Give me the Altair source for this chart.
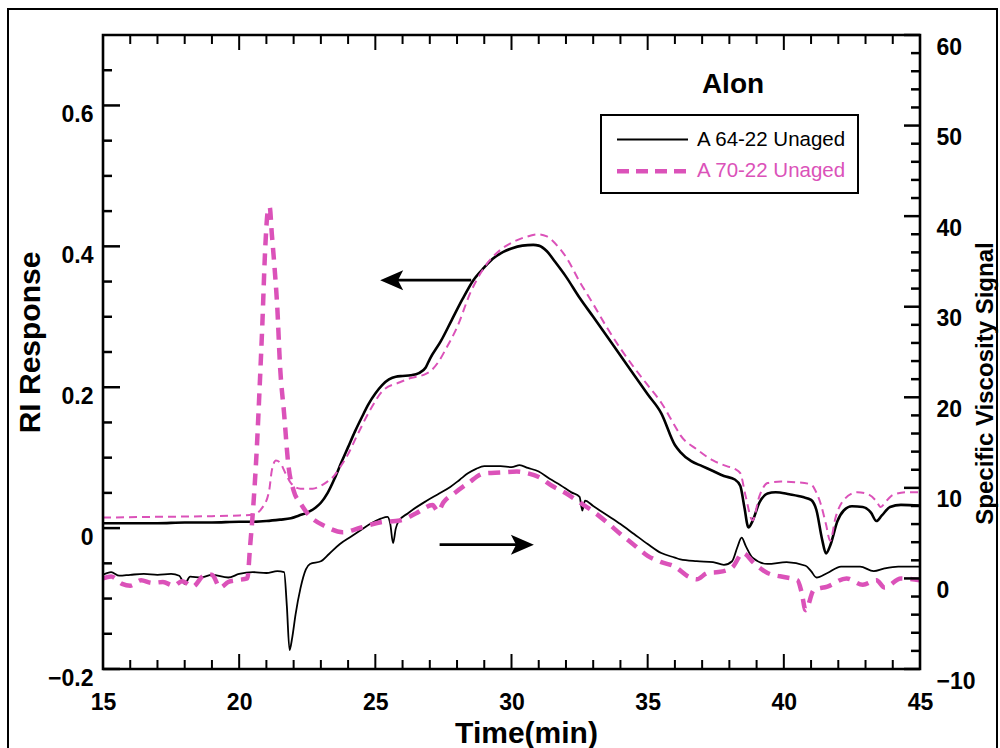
import altair as alt
import pandas as pd

# ---------------- data ----------------
ri64_t = [15.0, 16.0, 17.0, 18.0, 19.0, 20.0, 20.5, 21.0, 21.5, 21.9, 22.2, 22.5, 22.8, 23.0, 23.25,
          23.5, 23.75, 24.0, 24.25, 24.5, 24.75, 25.0, 25.25, 25.5, 25.75, 26.0, 26.3, 26.6, 26.85,
          27.0, 27.4, 27.8, 28.2, 28.6, 29.0, 29.3, 29.7, 30.0, 30.4, 30.8, 31.0, 31.3, 31.6, 32.0,
          32.5, 33.0, 34.0, 35.0, 35.5, 36.0, 36.2, 36.6, 37.0, 37.4, 37.8, 38.2, 38.4, 38.55, 38.7,
          38.85, 39.1, 39.4, 39.7, 40.2, 40.7, 41.0, 41.2, 41.4, 41.55, 41.7, 41.97, 42.2, 42.5,
          42.9, 43.2, 43.4, 43.6, 43.9, 44.3, 45.0]
ri64_v = [0.007, 0.007, 0.007, 0.008, 0.008, 0.009, 0.009, 0.010, 0.012, 0.014, 0.018, 0.022, 0.029,
          0.036, 0.050, 0.070, 0.093, 0.115, 0.137, 0.157, 0.176, 0.191, 0.203, 0.211, 0.215, 0.216,
          0.217, 0.220, 0.228, 0.240, 0.265, 0.295, 0.325, 0.352, 0.370, 0.382, 0.392, 0.397, 0.401,
          0.402, 0.401, 0.393, 0.378, 0.357, 0.327, 0.300, 0.245, 0.190, 0.163, 0.118, 0.108, 0.095,
          0.088, 0.081, 0.074, 0.069, 0.060, 0.030, 0.001, 0.010, 0.036, 0.049, 0.051, 0.048, 0.044,
          0.040, 0.025, -0.015, -0.036, -0.025, 0.010, 0.025, 0.031, 0.030, 0.022, 0.010, 0.018,
          0.030, 0.033, 0.032]

ri70_t = [15.0, 17.0, 19.0, 20.0, 20.5, 20.85, 21.1, 21.2, 21.35, 21.5, 21.7, 21.9, 22.25, 22.7, 23.0,
          23.2, 23.5, 23.7, 24.0, 24.3, 24.8, 25.3, 25.9, 26.3, 26.8, 27.0, 27.3, 27.6, 28.0, 28.5,
          29.0, 29.5, 30.0, 30.5, 31.0, 31.3, 31.7, 32.0, 32.5, 33.0, 33.5, 34.0, 34.5, 35.0, 35.5,
          36.0, 36.2, 36.8, 37.4, 37.9, 38.2, 38.4, 38.6, 38.85, 39.1, 39.4, 39.9, 40.5, 41.0, 41.2,
          41.35, 41.55, 41.7, 41.9, 42.2, 42.7, 43.1, 43.4, 43.55, 43.8, 44.0, 44.5, 45.0]
ri70_v = [0.015, 0.016, 0.017, 0.018, 0.019, 0.029, 0.053, 0.082, 0.096, 0.093, 0.078, 0.064, 0.056,
          0.056, 0.060, 0.065, 0.075, 0.086, 0.105, 0.129, 0.167, 0.196, 0.207, 0.213, 0.218, 0.222,
          0.235, 0.255, 0.285, 0.335, 0.370, 0.392, 0.405, 0.413, 0.417, 0.414, 0.400, 0.385, 0.350,
          0.318, 0.285, 0.255, 0.228, 0.203, 0.178, 0.145, 0.132, 0.112, 0.096, 0.088, 0.084, 0.078,
          0.045, 0.011, 0.045, 0.064, 0.066, 0.065, 0.062, 0.050, 0.035, 0.005, -0.018, 0.015, 0.040,
          0.051, 0.048, 0.038, 0.030, 0.040, 0.047, 0.051, 0.051]

sv64_t = [15.0, 15.3, 15.6, 16.0, 16.5, 17.0, 17.5, 17.8, 18.0, 18.2, 18.6, 19.0, 19.6, 20.0, 20.5,
          21.0, 21.4, 21.65, 21.75, 21.85, 21.95, 22.07, 22.25, 22.45, 22.6, 23.0, 23.3, 23.7, 24.1,
          24.45, 24.8, 25.2, 25.45, 25.55, 25.65, 25.75, 25.85, 26.2, 26.9, 27.3, 27.75, 28.1, 28.4,
          28.7, 29.0, 29.6, 30.0, 30.3, 30.6, 31.0, 31.4, 31.8, 32.2, 32.5, 32.6, 32.7, 33.0, 33.5,
          34.0, 34.5, 35.0, 35.5, 36.0, 36.2, 36.8, 37.4, 37.8, 38.1, 38.3, 38.45, 38.6, 38.85, 39.4,
          40.1, 40.8, 41.0, 41.2, 41.6, 42.1, 42.8, 43.3, 43.7, 44.2, 45.0]
sv64_v = [0.4, 0.7, 0.3, 0.4, 0.5, 0.4, 0.5, 0.3, -0.6, 0.2, 0.1, 0.4, 0.1, 0.5, 0.7,
          0.6, 0.8, 0.7, -3.0, -7.9, -6.5, -4.0, -1.1, 1.0, 1.6, 1.9, 2.7, 3.8, 4.6,
          5.3, 6.0, 6.6, 6.8, 6.0, 3.9, 5.5, 6.3, 7.2, 8.6, 9.3, 10.1, 10.9, 11.6,
          12.1, 12.4, 12.4, 12.3, 12.5, 12.2, 11.8, 11.0, 10.3, 9.5, 9.0, 7.5, 8.6, 8.0, 7.0,
          6.0, 4.9, 3.8, 2.8, 2.3, 2.1, 1.9, 1.8, 1.5, 1.9, 3.5, 4.5, 3.6, 2.3, 1.6,
          1.8, 1.4, 0.8, 0.1, 0.6, 1.3, 1.3, 0.8, 1.1, 1.3, 1.3]

sv70_t = [15.0, 15.3, 15.7, 16.0, 16.4, 16.8, 17.2, 17.6, 17.9, 18.3, 18.7, 19.0, 19.3, 19.6, 19.9,
          20.3, 20.4, 20.5, 20.65, 20.75, 20.85, 20.95, 21.05, 21.12, 21.2, 21.3, 21.4, 21.5, 21.65,
          21.8, 22.0, 22.25, 22.5, 23.2, 23.8, 24.45, 25.2, 25.9, 26.5, 27.1, 27.3, 27.5, 27.9, 28.4,
          29.0, 29.6, 30.2, 30.6, 31.0, 31.5, 32.0, 32.5, 33.0, 33.5, 34.0, 34.5, 35.0, 35.5, 36.0,
          36.5, 36.8, 37.2, 37.6, 38.1, 38.5, 38.9, 39.4, 40.1, 40.5, 40.65, 40.8, 41.1, 41.6, 42.3,
          42.9, 43.4, 43.7, 44.3, 45.0]
sv70_v = [0.0, 0.2, -0.6, -0.8, -0.2, -0.5, -0.4, -0.8, -0.3, -0.9, 0.3, 0.4, -1.0, -0.4, -0.2,
          0.0, 3.5, 7.2, 14.5, 21.0, 28.0, 36.0, 40.5, 41.0, 38.0, 34.3, 29.9, 23.5, 18.2,
          12.7, 9.7, 8.3, 7.2, 5.7, 5.1, 5.6, 6.2, 6.4, 7.2, 8.1, 7.4, 8.4, 9.4, 10.5,
          11.6, 11.7, 11.8, 11.6, 11.2, 10.2, 9.4, 8.4, 7.4, 6.2, 4.9, 3.7, 2.5, 1.8, 1.3,
          0.2, -0.1, 0.6, 0.7, 1.2, 2.8, 1.7, 0.6, 0.1, -0.2, -1.5, -3.5, -1.3, -0.9, 0.0,
          -0.7, -0.2, -1.0, 0.0, -0.2]

series_names = ["A 64-22 Unaged", "A 70-22 Unaged"]
title_text = "Alon"
x_title = "Time(min)"
yl_title = "RI Response"
yr_title = "Specific Viscosity Signal"

x_major = [15, 20, 25, 30, 35, 40, 45]
x_minor = [t for t in range(16, 45) if t % 5 != 0]
yl_major = [-0.2, 0.0, 0.2, 0.4, 0.6]
yl_minor = [-0.15, -0.1, -0.05, 0.05, 0.1, 0.15, 0.25, 0.3, 0.35, 0.45, 0.5, 0.55, 0.65]
yr_major = [-10, 0, 10, 20, 30, 40, 50, 60]
yr_minor = [v for v in range(-8, 60, 2) if v % 10 != 0]

ri_arrow_t = [25.6, 28.52]
ri_arrow_v = 0.352
sv_arrow_t = [27.36, 30.4]
sv_arrow_v = 3.73

# ---------------- layout / style ----------------
W, H = 817, 634
PINK = "#DB52B9"
FONT = "Liberation Sans"

XS = alt.Scale(domain=[15, 45], nice=False, zero=False)
YL = alt.Scale(domain=[-0.2, 0.7], nice=False, zero=False)
YR = alt.Scale(domain=[-10, 60], nice=False, zero=False)

XAX = alt.Axis(values=x_major, format="d", domain=False, ticks=False, grid=False,
               labelFontSize=23, labelFontWeight="bold", labelFont=FONT, labelColor="black",
               labelPadding=33, labelBaseline="middle", labelFlush=False, labelOverlap=False,
               title=x_title, titleFont=FONT, titleFontSize=30, titleFontWeight="bold",
               titleColor="black", titleX=423, titleY=64, titleBaseline="middle", titleAnchor="middle")
YLAX = alt.Axis(orient="left", values=yl_major, format=".1~f", domain=False, ticks=False, grid=False,
                labelFontSize=23, labelFontWeight="bold", labelFont=FONT, labelColor="black",
                labelPadding=10, labelOffset=9, labelBaseline="middle", labelFlush=False,
                labelOverlap=False, title=yl_title, titleFont=FONT, titleFontSize=30,
                titleFontWeight="bold", titleColor="black", titleX=-73, titleY=307,
                titleAngle=270, titleBaseline="middle", titleAlign="center")
YRAX = alt.Axis(orient="right", values=yr_major, format="d", domain=False, ticks=False, grid=False,
                labelFontSize=23, labelFontWeight="bold", labelFont=FONT, labelColor="black",
                labelPadding=16, labelOffset=12, labelBaseline="middle", labelFlush=False,
                labelOverlap=False, title=yr_title, titleFont=FONT, titleFontSize=24,
                titleFontWeight="bold", titleColor="black", titleX=65, titleY=348,
                titleAngle=270, titleBaseline="middle", titleAlign="center")

one = alt.Data(values=[{}])


def frame(t, v):
    return pd.DataFrame({"t": t, "v": v})


ri64 = alt.Chart(frame(ri64_t, ri64_v)).mark_line(
    color="black", strokeWidth=2.6, interpolate="monotone").encode(
    x=alt.X("t:Q", scale=XS, axis=XAX), y=alt.Y("v:Q", scale=YL, axis=YLAX))
ri70 = alt.Chart(frame(ri70_t, ri70_v)).mark_line(
    color=PINK, strokeWidth=2, strokeDash=[8, 5], interpolate="monotone").encode(
    x=alt.X("t:Q", scale=XS, axis=XAX), y=alt.Y("v:Q", scale=YL, axis=None))
sv64 = alt.Chart(frame(sv64_t, sv64_v)).mark_line(
    color="black", strokeWidth=1.8, interpolate="monotone").encode(
    x=alt.X("t:Q", scale=XS, axis=XAX), y=alt.Y("v:Q", scale=YR, axis=YRAX))
sv70 = alt.Chart(frame(sv70_t, sv70_v)).mark_line(
    color=PINK, strokeWidth=4.5, strokeDash=[12, 8], interpolate="monotone").encode(
    x=alt.X("t:Q", scale=XS, axis=XAX), y=alt.Y("v:Q", scale=YR, axis=None))

# arrows
ri_arrow = alt.Chart(pd.DataFrame({"t": ri_arrow_t, "v": [ri_arrow_v] * 2})).mark_line(
    color="black", strokeWidth=2.6).encode(
    x=alt.X("t:Q", scale=XS, axis=XAX), y=alt.Y("v:Q", scale=YL, axis=None))
ri_head = alt.Chart(pd.DataFrame({"t": [ri_arrow_t[0]], "v": [ri_arrow_v]})).mark_point(
    shape="M -1 0 L 1 -0.87 L 0.55 0 L 1 0.87 Z", size=529, filled=True, color="black",
    opacity=1).encode(
    x=alt.X("t:Q", scale=XS, axis=XAX), y=alt.Y("v:Q", scale=YL, axis=None))
sv_arrow = alt.Chart(pd.DataFrame({"t": sv_arrow_t, "v": [sv_arrow_v] * 2})).mark_line(
    color="black", strokeWidth=2.6).encode(
    x=alt.X("t:Q", scale=XS, axis=XAX), y=alt.Y("v:Q", scale=YR, axis=None))
sv_head = alt.Chart(pd.DataFrame({"t": [sv_arrow_t[1]], "v": [sv_arrow_v]})).mark_point(
    shape="M 1 0 L -1 -0.87 L -0.55 0 L -1 0.87 Z", size=529, filled=True, color="black",
    opacity=1).encode(
    x=alt.X("t:Q", scale=XS, axis=XAX), y=alt.Y("v:Q", scale=YR, axis=None))


# ticks (inward)
def xticks(vals, ln, top):
    y0, y1 = (0, ln) if top else (H, H - ln)
    return alt.Chart(pd.DataFrame({"t": vals})).mark_rule(color="black", strokeWidth=2).encode(
        x=alt.X("t:Q", scale=XS, axis=XAX), y=alt.value(y0), y2=alt.value(y1))


def yticks(vals, ln, scale, right):
    x0, x1 = (W, W - ln) if right else (0, ln)
    return alt.Chart(pd.DataFrame({"v": vals})).mark_rule(color="black", strokeWidth=2.5).encode(
        y=alt.Y("v:Q", scale=scale, axis=None), x=alt.value(x0), x2=alt.value(x1))


ticks = [xticks(x_major, 15, False), xticks(x_minor, 9, False),
         xticks(x_major, 15, True), xticks(x_minor, 9, True),
         yticks(yl_major, 17, YL, False), yticks(yl_minor, 9, YL, False),
         yticks(yr_major, 16, YR, True), yticks(yr_minor, 9, YR, True)]

plot_box = alt.Chart(one).mark_rect(fillOpacity=0, stroke="black", strokeWidth=2.6).encode(
    x=alt.value(0), x2=alt.value(W), y=alt.value(0), y2=alt.value(H))
outer_box = alt.Chart(one).mark_rect(fillOpacity=0, stroke="black", strokeWidth=2).encode(
    x=alt.value(-95), x2=alt.value(894), y=alt.value(-26), y2=alt.value(720))

# title + legend (annotations in pixel space)
alon = alt.Chart(one).mark_text(text=title_text, font=FONT, fontSize=28, fontWeight="bold",
                                color="black", align="center", baseline="middle").encode(
    x=alt.value(630), y=alt.value(50))
leg_box = alt.Chart(one).mark_rect(fillOpacity=0, stroke="black", strokeWidth=2).encode(
    x=alt.value(498), x2=alt.value(755), y=alt.value(80), y2=alt.value(158))
leg_l1 = alt.Chart(one).mark_rule(color="black", strokeWidth=2).encode(
    x=alt.value(514), x2=alt.value(585), y=alt.value(104.5))
leg_l2 = alt.Chart(one).mark_rule(color=PINK, strokeWidth=4.5, strokeDash=[12, 7]).encode(
    x=alt.value(514), x2=alt.value(585), y=alt.value(136.3))
leg_t1 = alt.Chart(one).mark_text(text=series_names[0], font=FONT, fontSize=20.5, color="black",
                                  align="left", baseline="middle").encode(
    x=alt.value(594), y=alt.value(104.5))
leg_t2 = alt.Chart(one).mark_text(text=series_names[1], font=FONT, fontSize=20.5, color=PINK,
                                  align="left", baseline="middle").encode(
    x=alt.value(594), y=alt.value(136.3))

chart = alt.layer(
    ri64, sv64, ri70, sv70, ri_arrow, ri_head, sv_arrow, sv_head, *ticks,
    plot_box, outer_box, alon, leg_box, leg_l1, leg_l2, leg_t1, leg_t2
).resolve_scale(y="independent").properties(
    width=W, height=H,
    autosize=alt.AutoSizeParams(type="none"),
    padding={"left": 103, "top": 35, "right": 80, "bottom": 79},
    background="white"
).configure_view(stroke=None)

chart.save("out.html", embed_options={"renderer": "svg", "actions": False})
